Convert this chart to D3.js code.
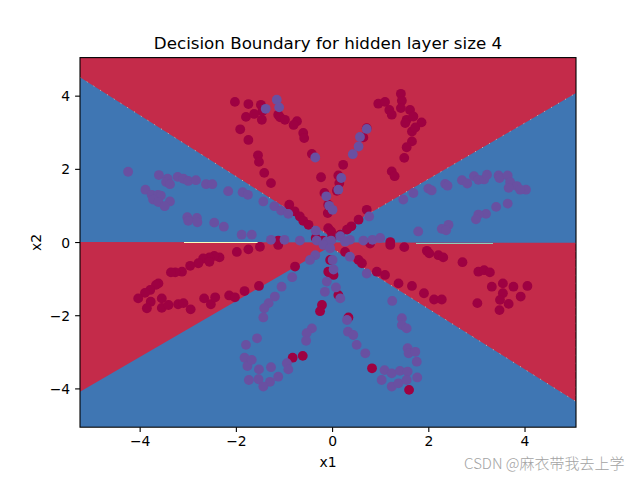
<!DOCTYPE html>
<html><head><meta charset="utf-8">
<script src="https://cdn.jsdelivr.net/npm/d3@7"></script>
<style>
body{margin:0;background:#fff;}
svg text{font-family:"DejaVu Sans",sans-serif;}
</style></head>
<body><svg id="c" width="640" height="480"></svg>
<script>
// ---- data ----
const xDomain = [-5.24, 5.07];
const yDomain = [-5.06, 5.04];
const xTicks = [-4, -2, 0, 2, 4];
const yTicks = [-4, -2, 0, 2, 4];
const titleText = "Decision Boundary for hidden layer size 4";
const xLabel = "x1";
const yLabel = "x2";
const watermark = "CSDN @麻衣带我去上学";

// decision regions (class 0 = red), everything else class 1 (blue)
const redRegionTop = [[-5.24, 5.04], [-5.24, 4.50], [-0.04, 0.16], [5.07, 4.07], [5.07, 5.04]];
const redRegionBottom = [[-5.24, 0.0], [5.07, -0.02], [5.07, -4.36], [-0.05, -0.13], [-5.24, -4.09]];
const seamYellow = [[-3.08, -0.014], [-1.54, -0.014]];
const seamTeal = [[1.75, -0.041], [3.34, -0.041]];

// class 0 points
const class0 = [
[-2.02,3.83],[-1.74,3.77],[-1.79,3.42],[-1.91,3.08],[-1.74,2.79],
[-1.48,3.75],[-1.45,3.57],[-1.62,3.50],[-1.46,3.34],[-1.12,3.48],[-1.08,3.41],[-0.98,3.34],[-0.73,3.30],[-0.80,3.20],[-0.60,2.98],[-0.58,2.84],[-1.54,2.37],[-1.52,2.19],[-1.41,1.89],[-1.27,1.61],[-0.89,1.02],[-0.78,0.84],[-0.67,0.70],[-0.60,0.58],[-0.49,0.47],[-0.08,0.38],[-0.02,0.29],[-0.23,1.77],[-0.42,2.41],[0.23,2.11],[0.13,1.82],[0.15,1.61],[-0.16,1.34],[0.10,1.40],[-0.08,1.02],[-0.09,0.79],[0.72,3.11],[0.65,2.86],[0.96,3.78],[1.10,3.83],[1.19,3.61],[1.24,3.48],[1.43,4.05],[1.45,3.86],[1.43,3.66],[1.62,3.61],[1.55,3.34],[1.52,3.25],[1.66,3.02],[1.66,2.75],[1.55,2.59],[1.50,2.30],[1.24,1.93],[1.30,1.80],[0.72,0.88],[0.55,0.61],[0.40,0.43],[0.31,0.34],[0.17,0.20],[-0.01,0.11],[-0.19,0.04],[-0.34,0.11],[-1.12,0.04],[1.21,0.0],
[1.69,3.43],[1.86,3.27],[1.73,3.13],
[-1.98,-0.27],[-1.74,-0.20],[-2.34,-0.42],[-2.45,-0.38],[-2.55,-0.42],[-2.68,-0.45],[-2.55,-0.54],[-2.78,-0.58],[-2.95,-0.65],[-3.12,-0.81],[-3.26,-0.83],[-3.35,-0.83],[-3.61,-1.13],[-3.66,-1.17],[-3.78,-1.31],[-3.89,-1.39],[-4.03,-1.54],[-3.77,-1.63],[-3.54,-1.54],[-3.85,-1.81],[-3.54,-1.80],[-3.40,-1.72],[-3.20,-1.70],[-3.09,-1.67],[-2.94,-1.84],[-2.66,-1.54],[-2.52,-1.70],[-2.43,-1.51],[-2.14,-1.46],[-2.02,-1.51],[-1.82,-1.34],
[-1.50,-0.13],[-1.12,-0.08],[-0.77,-0.67],[-1.52,-1.20],[-0.21,-1.72],[-0.25,-1.89],[0.34,-2.06],[-0.82,-3.16],[-0.61,-3.11],[0.83,-3.45],[1.60,-4.04],
[0.27,-0.27],[0.55,-0.49],[0.62,-0.58],[0.93,-0.81],[1.10,-0.90],[1.38,-1.13],[1.66,-1.20],[1.21,-0.08],[1.50,-0.14],[0.79,-0.04],[-0.08,-0.81],[-0.04,-0.86],[0.03,-0.90],[0.13,-1.45],[-0.04,-0.49],
[1.97,-0.24],[2.02,-0.31],[2.21,-0.36],[2.31,-0.42],[2.71,-0.55],[3.04,-0.81],[3.16,-0.77],[3.28,-0.83],[1.91,-1.40],[2.12,-1.57],[2.28,-1.57],[3.32,-1.22],[3.55,-1.13],[3.77,-1.22],[4.06,-1.20],[3.55,-1.40],[3.49,-1.58],[3.67,-1.69],[3.48,-1.86],[3.92,-1.49],[3.02,-1.67]
];

// class 1 points
const class1 = [
[-4.24,1.92],[-3.60,1.83],[-3.42,1.73],[-3.45,1.64],[-3.21,1.78],[-3.09,1.73],[-2.99,1.67],[-2.83,1.69],[-3.37,1.58],[-2.62,1.58],[-2.49,1.58],[-2.16,1.39],[-1.86,1.36],[-1.75,1.29],[-3.88,1.43],[-3.75,1.29],[-3.62,1.29],[-3.56,1.27],[-3.72,1.16],[-3.61,1.09],[-3.37,1.11],[-3.48,0.98],[-3.01,0.68],[-2.81,0.66],[-2.99,0.58],[-2.80,0.54],[-2.45,0.53],[-2.25,0.42],[-1.88,0.20],
[-1.15,3.89],[-1.38,3.64],[-1.10,3.68],[-0.35,2.31],[0.72,3.09],[0.58,2.87],[0.55,2.61],[0.43,2.40],[0.19,1.75],[0.13,1.43],[-0.12,1.25],[-0.06,0.99],[0.01,0.88],[-1.43,1.11],[-1.20,0.98],[-1.06,0.86],[-0.91,0.77],[1.48,1.16],[1.69,1.34],[0.77,0.70],[-0.34,0.31],[0.17,0.16],[0.37,0.06],[-1.67,0.20],[-1.27,0.06],[-0.99,0.06],[-0.67,0.04],[-0.32,0.04],[-0.11,0.02],[-0.02,0.04],[0.65,0.04],[0.84,0.06],[1.00,0.11],
[2.00,1.46],[2.07,1.41],[2.35,1.59],[2.40,1.54],[2.70,1.69],[2.81,1.60],[2.95,1.80],[3.04,1.70],[3.16,1.71],[3.22,1.84],[3.46,1.82],[3.48,1.75],[3.65,1.82],[3.70,1.64],[3.84,1.53],[3.67,1.48],[4.03,1.43],[3.91,1.43],[3.41,0.96],[3.65,1.05],[3.20,0.77],[3.04,0.75],[2.99,0.62],[2.42,0.47],[2.28,0.36],[2.37,0.32],[1.79,0.29],
[-1.79,-2.81],[-1.82,-3.16],[-1.76,-3.39],[-1.73,-3.77],
[-0.18,-0.08],[-0.04,-0.17],[-0.35,-0.36],[-0.46,-0.49],[0.01,-0.49],[0.03,-0.75],[-0.11,-1.08],[-0.15,-1.36],[0.08,-1.24],[0.17,-1.54],[0.37,-0.40],[-0.83,-0.96],[-1.05,-1.22],[-1.19,-1.49],[-1.32,-1.67],[-1.41,-1.81],[-1.43,-2.06],[-0.42,-2.36],[-0.53,-2.49],[-0.54,-2.70],[-1.56,-2.63],[-1.67,-3.22],[-1.52,-3.48],[-1.27,-3.42],[-1.53,-3.75],[-1.29,-3.82],[-1.12,-3.68],[-1.43,-3.95],[-0.94,-3.31],[-0.91,-3.48],[0.31,-2.13],[0.33,-2.45],[0.44,-2.54],[0.51,-2.81],[0.69,-3.04],[0.72,-0.86],[1.25,-1.61],[1.45,-2.08],[1.45,-2.27],[1.55,-2.36],[1.57,-2.90],[1.59,-3.04],[1.09,-3.50],[1.24,-3.59],[1.41,-3.52],[1.57,-3.54],[1.03,-3.77],[1.24,-3.95],[1.38,-3.86],[1.55,-3.77],[0.27,0.01],
[1.73,-3.00],[1.76,-3.27],[1.77,-3.70]
];

// ---- drawing ----
const L = 80, R = 576, T = 57.6, B = 427.2;
const x = d3.scaleLinear().domain(xDomain).range([L, R]);
const y = d3.scaleLinear().domain(yDomain).range([B, T]);
const svg = d3.select("#c");

svg.append("defs").append("clipPath").attr("id", "clip")
  .append("rect").attr("x", L).attr("y", T).attr("width", R - L).attr("height", B - T);

const plot = svg.append("g").attr("clip-path", "url(#clip)");
const line = d3.line().x(d => x(d[0])).y(d => y(d[1]));

plot.append("rect").attr("x", L).attr("y", T).attr("width", R - L).attr("height", B - T)
  .attr("fill", "#3f76b3");
[redRegionTop, redRegionBottom].forEach(poly => {
  plot.append("path").attr("d", line(poly) + "Z").attr("fill", "#c42b4a");
});
// contour seam artifacts
[redRegionTop, redRegionBottom].forEach(poly => {
  plot.append("path").attr("d", line(poly.slice(1, 4)))
    .attr("fill", "none").attr("stroke", "#fcf8c4").attr("stroke-width", 0.8)
    .attr("stroke-dasharray", "1 7").attr("opacity", 0.8);
});
plot.append("path").attr("d", line(seamYellow)).attr("stroke", "#fdfdbe").attr("stroke-width", 1)
  .attr("shape-rendering", "crispEdges").attr("fill", "none");
plot.append("path").attr("d", line(seamTeal)).attr("stroke", "#8fcdb8").attr("stroke-width", 1)
  .attr("shape-rendering", "crispEdges").attr("fill", "none");

const r = 4.9;
plot.append("g").selectAll("circle").data(class0).join("circle")
  .attr("cx", d => x(d[0])).attr("cy", d => y(d[1])).attr("r", r).attr("fill", "#9e0142");
plot.append("g").selectAll("circle").data(class1).join("circle")
  .attr("cx", d => x(d[0])).attr("cy", d => y(d[1])).attr("r", r).attr("fill", "#6950a1");

// frame
svg.append("rect").attr("x", L).attr("y", T).attr("width", R - L).attr("height", B - T)
  .attr("fill", "none").attr("stroke", "#000").attr("stroke-width", 1.1);

// axes
const fmt = d3.format("d");
const xa = svg.append("g").attr("transform", `translate(0,${B})`)
  .call(d3.axisBottom(x).tickValues(xTicks).tickFormat(fmt).tickSize(4.9).tickPadding(4.2).tickSizeOuter(0));
const ya = svg.append("g").attr("transform", `translate(${L},0)`)
  .call(d3.axisLeft(y).tickValues(yTicks).tickFormat(fmt).tickSize(4.9).tickPadding(4.9).tickSizeOuter(0));
[xa, ya].forEach(g => {
  g.select(".domain").remove();
  g.selectAll(".tick line").attr("stroke", "#000").attr("stroke-width", 1.1);
  g.selectAll(".tick text").attr("fill", "#000").style("font-size", "13.9px")
    .style("font-family", "'DejaVu Sans', sans-serif");
});
ya.selectAll(".tick text").attr("dy", "0.36em");

svg.append("text").attr("x", (L + R) / 2).attr("y", 49.3).attr("text-anchor", "middle")
  .style("font-size", "16.7px").attr("fill", "#000").text(titleText);
svg.append("text").attr("x", (L + R) / 2).attr("y", 467).attr("text-anchor", "middle")
  .style("font-size", "13.9px").attr("fill", "#000").text(xLabel);
svg.append("text").attr("transform", `translate(41,${(T + B) / 2}) rotate(-90)`).attr("text-anchor", "middle")
  .style("font-size", "13.9px").attr("fill", "#000").text(yLabel);
svg.append("text").attr("x", 624.5).attr("y", 468.5).attr("text-anchor", "end")
  .style("font-size", "15px").style("font-family", "'Noto Sans CJK SC', sans-serif")
  .style("font-weight", 300)
  .attr("fill", "#a3a3a3").text(watermark);
</script></body></html>
